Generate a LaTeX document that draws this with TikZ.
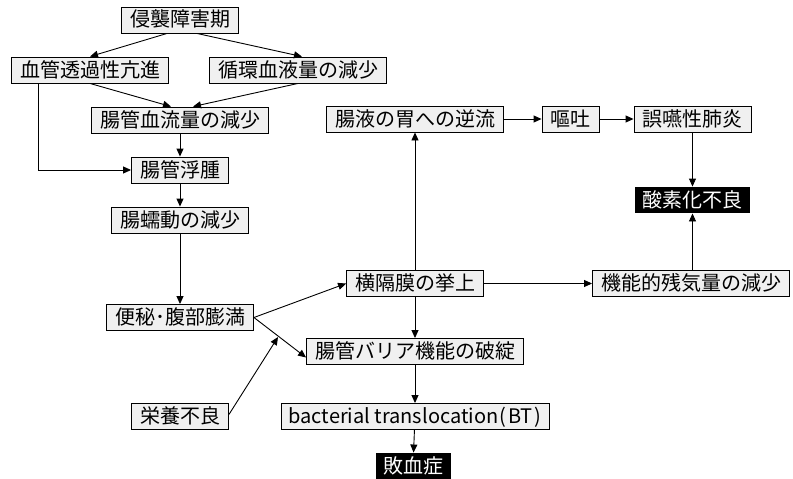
\documentclass[tikz,border=0pt]{standalone}
\usepackage{fontspec}
\usepackage{tikz}
\usetikzlibrary{arrows.meta}
\setmainfont{Noto Sans CJK JP}

\begin{document}
\begin{tikzpicture}[x=1pt,y=-1pt,line width=0.9pt,
  >={Triangle[length=8pt,width=7pt]}]
\tikzset{every node/.style={font=\fontsize{20pt}{24pt}\selectfont,inner xsep=8.5pt,inner ysep=3pt,
  text height=17pt,text depth=3pt}}
\tikzset{box/.style={draw=black,fill=black!6}}
\tikzset{dark/.style={fill=black,text=white,inner xsep=7.5pt}}
\useasboundingbox (0,0) rectangle (793,479);
% left column
\node [box] (shinshu) at (180,20) {侵襲障害期};
\node [box] (kekkan) at (90,70) {血管透過性亢進};
\node [box] (junkan) at (298,70) {循環血液量の減少};
\node [box] (ketsuryu) at (180,120) {腸管血流量の減少};
\node [box] (fushu) at (180,170) {腸管浮腫};
\node [box] (zendo) at (180,220) {腸蠕動の減少};
\node [box] (benpi) at (180,317.5) {便秘･腹部膨満};
\node [box] (eiyo) at (180,416.5) {栄養不良};
% middle column
\node [box] (gyakuryu) at (415,119) {腸液の胃への逆流};
\node [box] (kyojo) at (415,283.5) {横隔膜の挙上};
\node [box] (barrier) at (415,351.5) {腸管バリア機能の破綻};
\node [box,minimum width=268pt,inner xsep=0pt] (bt) at (415,416.5)
  {bacterial translocation\kern1pt(\kern2pt BT\kern2pt)};
\node [dark] (haiketsu) at (413,466) {敗血症};
% right column
\node [box] (oto) at (570.5,119) {嘔吐};
\node [box] (goen) at (692.5,119) {誤嚥性肺炎};
\node [dark] (sanso) at (692.5,200) {酸素化不良};
\node [box] (kino) at (691,283.5) {機能的残気量の減少};
\coordinate (mid) at (278,337);
% connectors
\draw [->] ([xshift=-13pt]shinshu.south) -- (kekkan.north);
\draw [->] ([xshift=17pt]shinshu.south) -- ([xshift=4pt]junkan.north);
\draw [->] (kekkan.south) -- ([xshift=-9pt]ketsuryu.north);
\draw [->] (junkan.south) -- ([xshift=13pt]ketsuryu.north);
\draw [->] ([xshift=-52pt]kekkan.south) |- (fushu.west);
\draw [->] (ketsuryu) -- (fushu);
\draw [->] (fushu) -- (zendo);
\draw [->] (zendo) -- (benpi);
\draw [->] (benpi.east) -- (kyojo.west);
\draw [->] (benpi.east) -- ([yshift=-6pt]barrier.west);
\draw [->] ([yshift=2pt]eiyo.east) -- (mid);
\draw [->] (kyojo) -- (gyakuryu);
\draw [->] (kyojo) -- (barrier);
\draw [->] (barrier) -- (bt);
\draw [->] (bt) -- (haiketsu);
\draw [->] (kyojo) -- (kino);
\draw [->] (gyakuryu) -- (oto);
\draw [->] (oto) -- (goen);
\draw [->] (goen) -- (sanso);
\draw [->] (kino.north -| sanso.south) -- (sanso.south);
\end{tikzpicture}
\end{document}
